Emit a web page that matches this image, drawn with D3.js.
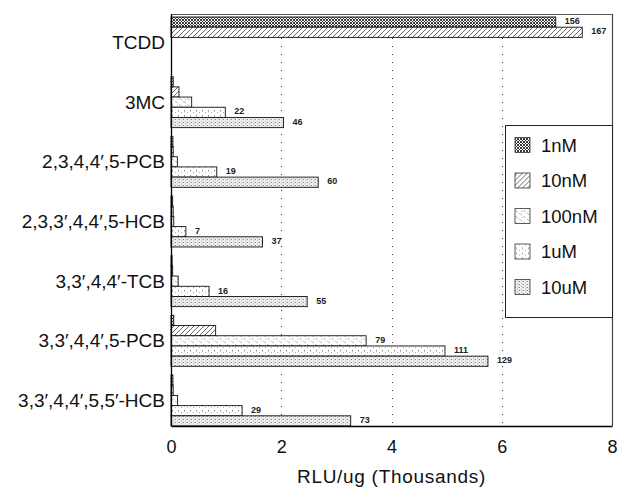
<!DOCTYPE html>
<html>
<head>
<meta charset="utf-8">
<script src="https://cdn.jsdelivr.net/npm/d3@7"></script>
<style>
  body { margin: 0; background: #fff; }
  text { font-family: "Liberation Sans", Arial, sans-serif; }
</style>
</head>
<body>
<div id="chart"></div>
<script>
// compounds (top to bottom)
var compounds = ["TCDD", "3MC", "2,3,4,4\u2032,5-PCB", "2,3,3\u2032,4,4\u2032,5-HCB",
    "3,3\u2032,4,4\u2032-TCB", "3,3\u2032,4,4\u2032,5-PCB", "3,3\u2032,4,4\u2032,5,5\u2032-HCB"];
var doses = ["1nM", "10nM", "100nM", "1uM", "10uM"];

// RLU/ug (thousands) per dose, one value per compound
var v1nM   = [6.98, 0.04, 0.035, 0.03, 0.02, 0.05, 0.035];
var v10nM  = [7.46, 0.145, 0.04, 0.04, 0.03, 0.81, 0.04];
var v100nM = [null, 0.375, 0.115, 0.05, 0.13, 3.54, 0.12];
var v1uM   = [null, 0.985, 0.83, 0.27, 0.69, 4.97, 1.29];
var v10uM  = [null, 2.04, 2.67, 1.66, 2.47, 5.75, 3.26];

// fold-induction labels printed next to bars
var f1nM   = ["156", null, null, null, null, null, null];
var f10nM  = ["167", null, null, null, null, null, null];
var f100nM = [null, null, null, null, null, "79", null];
var f1uM   = [null, "22", "19", "7", "16", "111", "29"];
var f10uM  = [null, "46", "60", "37", "55", "129", "73"];

var xTicks = [0, 2, 4, 6, 8];

var series = [v1nM, v10nM, v100nM, v1uM, v10uM];
var folds = [f1nM, f10nM, f100nM, f1uM, f10uM];

var margin = {top: 14, right: 9, bottom: 63, left: 171},
    width = 621 - margin.left - margin.right,
    height = 489 - margin.top - margin.bottom;

var svg = d3.select("#chart")
    .append("svg")
    .attr("width", 621)
    .attr("height", 489);

// fill patterns
var defs = svg.append("defs");

var p = defs.append("pattern").attr("id", "pat0").attr("patternUnits", "userSpaceOnUse")
    .attr("width", 3).attr("height", 3);
p.append("rect").attr("width", 3).attr("height", 3).attr("fill", "#fff");
p.append("path").attr("d", "M0,0 L3,3 M3,0 L0,3").attr("stroke", "#222").attr("stroke-width", 0.9);

p = defs.append("pattern").attr("id", "pat1").attr("patternUnits", "userSpaceOnUse")
    .attr("width", 5).attr("height", 5);
p.append("rect").attr("width", 5).attr("height", 5).attr("fill", "#fff");
p.append("path").attr("d", "M0,5 L5,0 M-1,1 L1,-1 M4,6 L6,4").attr("stroke", "#444").attr("stroke-width", 0.8);

p = defs.append("pattern").attr("id", "pat2").attr("patternUnits", "userSpaceOnUse")
    .attr("width", 8).attr("height", 6);
p.append("rect").attr("width", 8).attr("height", 6).attr("fill", "#fff");
p.append("path").attr("d", "M0,0 L3,2.2 M4,3 L7,5.2").attr("stroke", "#aaa").attr("stroke-width", 0.8);
p.append("rect").attr("x", 6).attr("y", 1).attr("width", 1).attr("height", 1).attr("fill", "#bbb");

p = defs.append("pattern").attr("id", "pat3").attr("patternUnits", "userSpaceOnUse")
    .attr("width", 6).attr("height", 5);
p.append("rect").attr("width", 6).attr("height", 5).attr("fill", "#fff");
p.append("rect").attr("x", 1).attr("y", 1).attr("width", 1).attr("height", 1.5).attr("fill", "#888");
p.append("rect").attr("x", 4).attr("y", 3).attr("width", 1).attr("height", 1).attr("fill", "#aaa");

p = defs.append("pattern").attr("id", "pat4").attr("patternUnits", "userSpaceOnUse")
    .attr("width", 4).attr("height", 3);
p.append("rect").attr("width", 4).attr("height", 3).attr("fill", "#f0f0f0");
p.append("rect").attr("x", 0).attr("y", 0).attr("width", 1).attr("height", 1).attr("fill", "#888");
p.append("rect").attr("x", 2).attr("y", 1.5).attr("width", 1).attr("height", 1).attr("fill", "#aaa");
p.append("rect").attr("x", 3).attr("y", 0).attr("width", 1).attr("height", 1).attr("fill", "#ccc");

var g = svg.append("g")
    .attr("transform", "translate(" + margin.left + "," + margin.top + ")");

// scales
var x = d3.scaleLinear()
    .domain([0, 8])
    .range([0, width]);

var y = d3.scaleBand()
    .domain(compounds)
    .range([3, height])
    .paddingInner(0.146)
    .paddingOuter(0);

var ySub = d3.scaleBand()
    .domain(doses)
    .range([0, y.bandwidth()])
    .padding(0);

// dotted grid lines
g.selectAll("grid")
    .data(xTicks.filter(function(d) { return d > 0 && d < 8; }))
    .enter()
    .append("line")
    .attr("x1", function(d) { return Math.round(x(d)) + 0.5; })
    .attr("x2", function(d) { return Math.round(x(d)) + 0.5; })
    .attr("y1", 0)
    .attr("y2", height)
    .attr("stroke", "#333")
    .attr("stroke-width", 1)
    .attr("stroke-dasharray", "1,7");

// frame
g.append("line").attr("x1", 0).attr("x2", width).attr("y1", 0.5).attr("y2", 0.5)
    .attr("stroke", "#555").attr("stroke-width", 1);
g.append("line").attr("x1", width + 0.5).attr("x2", width + 0.5).attr("y1", 0).attr("y2", height)
    .attr("stroke", "#444").attr("stroke-width", 1.2);

// bars
var rows = [];
compounds.forEach(function(c, i) {
    doses.forEach(function(dz, j) {
        if (series[j][i] != null) {
            rows.push({compound: c, dose: dz, k: j, value: series[j][i], fold: folds[j][i]});
        }
    });
});

g.selectAll("mybar")
    .data(rows)
    .enter()
    .append("rect")
    .attr("x", x(0))
    .attr("y", function(d) { return y(d.compound) + ySub(d.dose); })
    .attr("width", function(d) { return x(d.value) - x(0); })
    .attr("height", ySub.bandwidth())
    .attr("fill", function(d) { return "url(#pat" + d.k + ")"; })
    .attr("stroke", "#111")
    .attr("stroke-width", 0.9);

// fold labels
g.selectAll("fold")
    .data(rows.filter(function(d) { return d.fold; }))
    .enter()
    .append("text")
    .attr("x", function(d) { return x(d.value) + 9; })
    .attr("y", function(d) { return y(d.compound) + ySub(d.dose) + ySub.bandwidth() / 2 - 1; })
    .attr("dy", "0.35em")
    .style("font-size", "9px")
    .style("font-weight", "bold")
    .style("fill", "#222")
    .text(function(d) { return d.fold; });

// y axis
g.append("line").attr("x1", 0.5).attr("x2", 0.5).attr("y1", 0).attr("y2", height)
    .attr("stroke", "#000").attr("stroke-width", 1.3);
g.selectAll("ylab")
    .data(compounds)
    .enter()
    .append("text")
    .attr("x", -6)
    .attr("y", function(d) { return y(d) + y.bandwidth() / 2; })
    .attr("dy", "0.35em")
    .attr("text-anchor", "end")
    .style("font-size", "19px")
    .style("fill", "#111")
    .text(function(d) { return d; });

// x axis
var xAxis = g.append("g")
    .attr("transform", "translate(0," + height + ")")
    .call(d3.axisBottom(x).tickValues(xTicks).tickSize(0).tickPadding(14));
xAxis.select(".domain").attr("stroke", "#000").attr("stroke-width", 1.3);
xAxis.selectAll("text")
    .style("font-family", "\"Liberation Sans\", Arial, sans-serif")
    .style("font-size", "18px")
    .style("fill", "#111");

svg.append("text")
    .attr("x", margin.left + width / 2)
    .attr("y", 483)
    .attr("text-anchor", "middle")
    .style("font-size", "19px")
    .style("letter-spacing", "0.7px")
    .style("fill", "#111")
    .text("RLU/ug (Thousands)");

// legend
var legend = svg.append("g").attr("transform", "translate(505,125)");
legend.append("rect")
    .attr("x", 0.5).attr("y", 0.5)
    .attr("width", 107).attr("height", 192)
    .attr("fill", "#fff")
    .attr("stroke", "#222")
    .attr("stroke-width", 1);

var item = legend.selectAll("item")
    .data(doses)
    .enter()
    .append("g")
    .attr("transform", function(d, i) { return "translate(10," + (20 + i * 35.5) + ")"; });
item.append("rect")
    .attr("x", 0).attr("y", -7.5)
    .attr("width", 15).attr("height", 15)
    .attr("fill", function(d, i) { return "url(#pat" + i + ")"; })
    .attr("stroke", "#333")
    .attr("stroke-width", 0.8);
item.append("text")
    .attr("x", 26)
    .attr("y", 0)
    .attr("dy", "0.36em")
    .style("font-size", "18.5px")
    .style("fill", "#111")
    .text(function(d) { return d; });
</script>
</body>
</html>
